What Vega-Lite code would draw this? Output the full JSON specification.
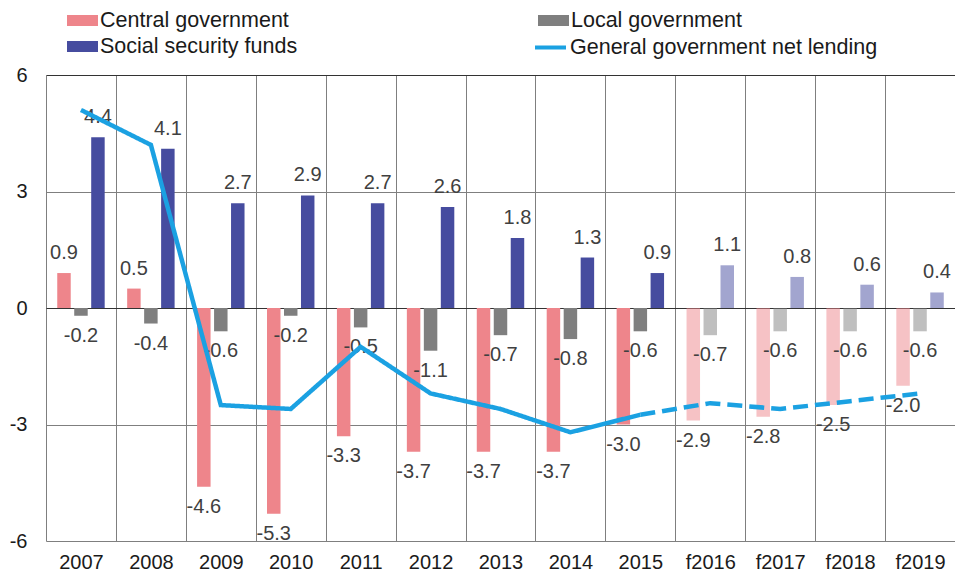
{
  "$schema": "https://vega.github.io/schema/vega-lite/v6.json",
  "width": 909,
  "height": 466,
  "autosize": {"type": "none"},
  "padding": {"left": 46, "top": 75, "right": 0, "bottom": 38},
  "config": {
    "view": {"stroke": null},
    "font": "Liberation Sans",
    "text": {"font": "Liberation Sans"},
    "locale": {"number": {"decimal": ".", "thousands": ",", "grouping": [3], "currency": ["", ""], "minus": "-"}}
  },
  "datasets": {
    "bars": [
      {"year": "2007", "series": "Central government", "value": 0.9, "forecast": false},
      {"year": "2008", "series": "Central government", "value": 0.5, "forecast": false},
      {"year": "2009", "series": "Central government", "value": -4.6, "forecast": false},
      {"year": "2010", "series": "Central government", "value": -5.3, "forecast": false},
      {"year": "2011", "series": "Central government", "value": -3.3, "forecast": false},
      {"year": "2012", "series": "Central government", "value": -3.7, "forecast": false},
      {"year": "2013", "series": "Central government", "value": -3.7, "forecast": false},
      {"year": "2014", "series": "Central government", "value": -3.7, "forecast": false},
      {"year": "2015", "series": "Central government", "value": -3.0, "forecast": false},
      {"year": "f2016", "series": "Central government", "value": -2.9, "forecast": true},
      {"year": "f2017", "series": "Central government", "value": -2.8, "forecast": true},
      {"year": "f2018", "series": "Central government", "value": -2.5, "forecast": true},
      {"year": "f2019", "series": "Central government", "value": -2.0, "forecast": true},
      {"year": "2007", "series": "Local government", "value": -0.2, "forecast": false},
      {"year": "2008", "series": "Local government", "value": -0.4, "forecast": false},
      {"year": "2009", "series": "Local government", "value": -0.6, "forecast": false},
      {"year": "2010", "series": "Local government", "value": -0.2, "forecast": false},
      {"year": "2011", "series": "Local government", "value": -0.5, "forecast": false},
      {"year": "2012", "series": "Local government", "value": -1.1, "forecast": false},
      {"year": "2013", "series": "Local government", "value": -0.7, "forecast": false},
      {"year": "2014", "series": "Local government", "value": -0.8, "forecast": false},
      {"year": "2015", "series": "Local government", "value": -0.6, "forecast": false},
      {"year": "f2016", "series": "Local government", "value": -0.7, "forecast": true},
      {"year": "f2017", "series": "Local government", "value": -0.6, "forecast": true},
      {"year": "f2018", "series": "Local government", "value": -0.6, "forecast": true},
      {"year": "f2019", "series": "Local government", "value": -0.6, "forecast": true},
      {"year": "2007", "series": "Social security funds", "value": 4.4, "forecast": false},
      {"year": "2008", "series": "Social security funds", "value": 4.1, "forecast": false},
      {"year": "2009", "series": "Social security funds", "value": 2.7, "forecast": false},
      {"year": "2010", "series": "Social security funds", "value": 2.9, "forecast": false},
      {"year": "2011", "series": "Social security funds", "value": 2.7, "forecast": false},
      {"year": "2012", "series": "Social security funds", "value": 2.6, "forecast": false},
      {"year": "2013", "series": "Social security funds", "value": 1.8, "forecast": false},
      {"year": "2014", "series": "Social security funds", "value": 1.3, "forecast": false},
      {"year": "2015", "series": "Social security funds", "value": 0.9, "forecast": false},
      {"year": "f2016", "series": "Social security funds", "value": 1.1, "forecast": true},
      {"year": "f2017", "series": "Social security funds", "value": 0.8, "forecast": true},
      {"year": "f2018", "series": "Social security funds", "value": 0.6, "forecast": true},
      {"year": "f2019", "series": "Social security funds", "value": 0.4, "forecast": true}
    ],
    "line": [
      {"year": "2007", "series": "General government net lending", "value": 5.1, "seg": "actual"},
      {"year": "2008", "series": "General government net lending", "value": 4.2, "seg": "actual"},
      {"year": "2009", "series": "General government net lending", "value": -2.5, "seg": "actual"},
      {"year": "2010", "series": "General government net lending", "value": -2.6, "seg": "actual"},
      {"year": "2011", "series": "General government net lending", "value": -1.0, "seg": "actual"},
      {"year": "2012", "series": "General government net lending", "value": -2.2, "seg": "actual"},
      {"year": "2013", "series": "General government net lending", "value": -2.6, "seg": "actual"},
      {"year": "2014", "series": "General government net lending", "value": -3.2, "seg": "actual"},
      {"year": "2015", "series": "General government net lending", "value": -2.75, "seg": "actual"},
      {"year": "2015", "series": "General government net lending", "value": -2.75, "seg": "forecast"},
      {"year": "f2016", "series": "General government net lending", "value": -2.45, "seg": "forecast"},
      {"year": "f2017", "series": "General government net lending", "value": -2.6, "seg": "forecast"},
      {"year": "f2018", "series": "General government net lending", "value": -2.4, "seg": "forecast"},
      {"year": "f2019", "series": "General government net lending", "value": -2.2, "seg": "forecast"}
    ]
  },
  "encoding": {
    "x": {
      "field": "year",
      "type": "nominal",
      "sort": null,
      "scale": {
        "domain": ["2007", "2008", "2009", "2010", "2011", "2012", "2013", "2014", "2015", "f2016", "f2017", "f2018", "f2019"],
        "paddingInner": 0,
        "paddingOuter": 0
      },
      "axis": {
        "title": null,
        "labelAngle": 0,
        "labelFontSize": 20,
        "labelColor": "#1a1a1a",
        "labelPadding": 11,
        "ticks": false,
        "domain": false,
        "grid": true,
        "tickBand": "extent",
        "gridColor": "#7f7f7f",
        "gridWidth": 1
      }
    },
    "y": {
      "field": "value",
      "type": "quantitative",
      "scale": {"domain": [-6, 6], "nice": false, "zero": false},
      "axis": {
        "title": null,
        "values": [-6, -3, 0, 3, 6],
        "labelFontSize": 20,
        "labelColor": "#1a1a1a",
        "labelPadding": 19,
        "ticks": false,
        "domain": false,
        "grid": true,
        "gridColor": {"condition": {"test": "datum.value === 0 || datum.value === 6", "value": "#333333"}, "value": "#7f7f7f"},
        "gridWidth": 1
      }
    }
  },
  "layer": [
    {
      "data": {"name": "bars"},
      "mark": {"type": "bar"},
      "encoding": {
        "xOffset": {
          "field": "series",
          "type": "nominal",
          "scale": {
            "domain": ["Central government", "Local government", "Social security funds"],
            "paddingInner": 0.206,
            "paddingOuter": 0.662
          }
        },
        "fill": {
          "field": "series",
          "type": "nominal",
          "scale": {
            "domain": ["Central government", "Social security funds", "Local government"],
            "range": ["#EE858B", "#464C9F", "#7F7F7F"]
          },
          "legend": {
            "title": null,
            "orient": "none",
            "legendX": 21,
            "legendY": -70,
            "columns": 2,
            "columnPadding": 240,
            "rowPadding": 0,
            "padding": 0,
            "labelFontSize": 21.5,
            "labelColor": "#1a1a1a",
            "labelOffset": 2,
            "labelLimit": 400,
            "symbolSize": 961,
            "symbolType": "M-1,-0.355H1V0.355H-1Z",
            "symbolStrokeWidth": 0,
            "symbolOpacity": 1
          }
        },
        "opacity": {"condition": {"test": "datum.forecast", "value": 0.5}, "value": 1}
      }
    },
    {
      "data": {"name": "bars"},
      "transform": [{"filter": "datum.value >= 0"}],
      "mark": {"type": "text", "fontSize": 20, "color": "#404040", "baseline": "middle", "dy": -20},
      "encoding": {
        "xOffset": {"field": "series", "type": "nominal"},
        "text": {"field": "value", "type": "quantitative", "format": ".1f"}
      }
    },
    {
      "data": {"name": "bars"},
      "transform": [{"filter": "datum.value < 0"}],
      "mark": {"type": "text", "fontSize": 20, "color": "#404040", "baseline": "middle", "dy": 20},
      "encoding": {
        "xOffset": {"field": "series", "type": "nominal"},
        "text": {"field": "value", "type": "quantitative", "format": ".1f"}
      }
    },
    {
      "data": {"name": "line"},
      "mark": {"type": "line", "strokeWidth": 4.5},
      "encoding": {
        "stroke": {
          "field": "series",
          "type": "nominal",
          "scale": {"domain": ["General government net lending"], "range": ["#1BA1E2"]},
          "legend": {
            "title": null,
            "orient": "none",
            "legendX": 487,
            "legendY": -45,
            "padding": 0,
            "labelFontSize": 21.5,
            "labelColor": "#1a1a1a",
            "labelOffset": 2,
            "labelLimit": 400,
            "symbolSize": 961,
            "symbolType": "stroke",
            "symbolStrokeWidth": 4,
            "symbolDash": [1, 0],
            "symbolOpacity": 1
          }
        },
        "strokeDash": {
          "field": "seg",
          "type": "nominal",
          "scale": {"domain": ["actual", "forecast"], "range": [[1, 0], [15, 7]]},
          "legend": null
        }
      }
    }
  ]
}
